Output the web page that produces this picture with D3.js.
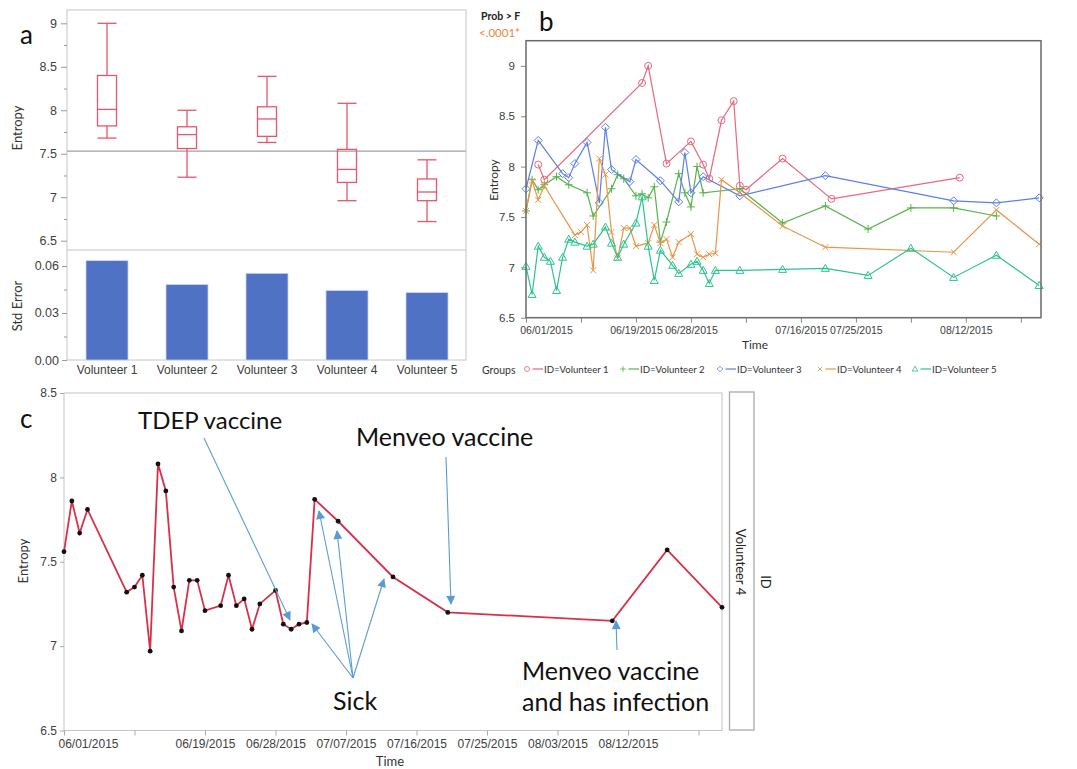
<!DOCTYPE html>
<html>
<head>
<meta charset="utf-8">
<script src="https://cdn.jsdelivr.net/npm/d3@7"></script>
<style>
  body { margin: 0; background: #fff; }
  svg { font-family: Lato, "Open Sans", sans-serif; }
  .tick text { fill: #404040; }
</style>
</head>
<body>
<svg id="fig" width="1077" height="769"></svg>
<script>
// ---- data ----
var volunteers = ['Volunteer 1', 'Volunteer 2', 'Volunteer 3', 'Volunteer 4', 'Volunteer 5'];

// panel a: box plot summaries and std errors
var boxMax = [9.00, 8.00, 8.39, 8.08, 7.43];
var boxQ3 = [8.40, 7.81, 8.04, 7.55, 7.21];
var boxMed = [8.01, 7.72, 7.90, 7.32, 7.06];
var boxQ1 = [7.82, 7.56, 7.70, 7.17, 6.96];
var boxMin = [7.68, 7.23, 7.63, 6.96, 6.72];
var grandMean = 7.53;
var stdErr = [0.0634, 0.0481, 0.0553, 0.0443, 0.0430];
var aTicks = [6.5, 7, 7.5, 8, 8.5, 9];
var seTicks = [0, 0.03, 0.06];

// panels b and c: day offsets from 06/01/2015 and entropy
var v1Days = [2, 3, 19, 20, 23, 27, 29, 30, 32, 34, 35, 36, 42, 50, 71];
var v1Vals = [8.02, 7.87, 8.83, 9.00, 8.03, 8.25, 8.02, 7.88, 8.46, 8.65, 7.81, 7.77, 8.08, 7.68, 7.89];
var v2Days = [0, 1, 2, 3, 5, 7, 10, 11, 14, 15, 16, 18, 19, 20, 21, 22, 23, 25, 26, 27, 28, 29, 35, 42, 49, 56, 63, 70, 77];
var v2Vals = [7.56, 7.87, 7.77, 7.82, 7.90, 7.82, 7.74, 7.51, 7.78, 7.92, 7.88, 7.71, 7.73, 7.69, 7.80, 7.25, 7.45, 7.93, 7.74, 7.60, 8.00, 7.74, 7.78, 7.44, 7.61, 7.38, 7.59, 7.59, 7.51];
var v3Days = [0, 2, 6, 7, 8, 10, 12, 13, 14, 17, 18, 22, 25, 26, 27, 29, 35, 49, 70, 77, 84];
var v3Vals = [7.78, 8.26, 7.93, 7.89, 8.03, 8.24, 7.64, 8.39, 7.97, 7.85, 8.07, 7.86, 7.65, 8.14, 7.74, 7.90, 7.71, 7.91, 7.66, 7.64, 7.69];
var v4Days = [0, 1, 2, 3, 8, 9, 10, 11, 12, 13, 14, 15, 16, 17, 18, 20, 21, 22, 23, 24, 25, 27, 28, 29, 30, 31, 32, 35, 42, 49, 70, 77, 84];
var v4Vals = [7.56, 7.86, 7.67, 7.81, 7.32, 7.35, 7.42, 6.97, 8.08, 7.92, 7.35, 7.09, 7.39, 7.39, 7.21, 7.24, 7.42, 7.24, 7.28, 7.10, 7.25, 7.33, 7.13, 7.10, 7.13, 7.14, 7.87, 7.74, 7.41, 7.20, 7.15, 7.57, 7.23];
var v5Days = [0, 1, 2, 3, 4, 5, 6, 7, 8, 10, 11, 13, 14, 15, 16, 18, 19, 20, 21, 22, 24, 25, 27, 28, 29, 30, 31, 35, 42, 49, 56, 63, 70, 77, 84];
var v5Vals = [7.01, 6.73, 7.21, 7.10, 7.06, 6.77, 7.10, 7.28, 7.25, 7.21, 7.23, 7.40, 7.24, 7.10, 7.23, 7.44, 7.70, 7.21, 6.87, 7.17, 7.02, 6.94, 7.03, 7.06, 6.97, 6.84, 6.97, 6.97, 6.98, 6.99, 6.92, 7.19, 6.90, 7.12, 6.82];

var dateTicks = ['06/01/2015', '06/10/2015', '06/19/2015', '06/28/2015', '07/07/2015', '07/16/2015', '07/25/2015', '08/03/2015', '08/12/2015', '08/21/2015'];
var bLabels = ['06/01/2015', '06/19/2015', '06/28/2015', '07/16/2015', '07/25/2015', '08/12/2015'];
var cLabels = ['06/01/2015', '06/19/2015', '06/28/2015', '07/07/2015', '07/16/2015', '07/25/2015', '08/03/2015', '08/12/2015'];
var bcTicks = [6.5, 7, 7.5, 8, 8.5, 9];
var cTicks = [6.5, 7, 7.5, 8, 8.5];

var seriesColors = ['#e8687c', '#55b54a', '#5c7fe6', '#e89548', '#2bc48f'];
var seriesShapes = ['circle', 'plus', 'diamond', 'cross', 'triangle'];

// ---- helpers ----
var svg = d3.select('#fig');
var parse = d3.timeParse('%m/%d/%Y');
var fmt = d3.timeFormat('%m/%d/%Y');
var start = parse('06/01/2015');
function toDate(d) { return new Date(+start + d * 864e5); }

function styleAxis(g, color) {
  g.select('.domain').remove();
  g.selectAll('.tick line').attr('stroke', color || '#999');
}

function shapePath(type) {
  switch (type) {
    case 'circle': return 'M3.5,0A3.5,3.5 0 1,1 -3.5,0A3.5,3.5 0 1,1 3.5,0Z';
    case 'plus': return 'M-4,0H4M0,-4V4';
    case 'diamond': return 'M0,-4L4,0L0,4L-4,0Z';
    case 'cross': return 'M-3,-3L3,3M-3,3L3,-3';
    default: return 'M0,-4L4,3L-4,3Z';
  }
}

// ================= panel a =================
var ax0 = 67, ax1 = 466;
var xa = d3.scaleBand().domain(volunteers).range([ax0, ax1 + 1]).paddingInner(0.475).paddingOuter(0.2375);
var ya = d3.scaleLinear().domain([6.393, 9.153]).range([250, 10]);
var yse = d3.scaleLinear().domain([0, 0.0702]).range([360, 250]);

var pa = svg.append('g');
pa.append('rect').attr('x', ax0).attr('y', 10).attr('width', ax1 - ax0).attr('height', 350)
  .attr('fill', 'none').attr('stroke', '#c4c4c4');
pa.append('line').attr('x1', ax0).attr('x2', ax1).attr('y1', 250).attr('y2', 250).attr('stroke', '#c4c4c4');

pa.append('g').attr('transform', 'translate(' + ax0 + ',0)')
  .call(d3.axisLeft(ya).tickValues(d3.range(6.75, 9.1, 0.5)).tickSize(3).tickFormat(''))
  .call(styleAxis);
pa.append('g').attr('transform', 'translate(' + ax0 + ',0)')
  .call(d3.axisLeft(ya).tickValues(aTicks).tickSize(6).tickPadding(4).tickFormat(d3.format('')))
  .call(styleAxis)
  .selectAll('text').style('font-size', '12.5px');

pa.append('line').attr('x1', ax0).attr('x2', ax1)
  .attr('y1', ya(grandMean)).attr('y2', ya(grandMean)).attr('stroke', '#a0a0a0').attr('stroke-width', 1.3);

var boxColor = '#e8566c';
var bw = 19;
volunteers.forEach(function(v, i) {
  var cx = xa(v) + xa.bandwidth() / 2;
  var g = pa.append('g').attr('stroke', boxColor).attr('fill', 'none').attr('stroke-width', 1.3);
  g.append('line').attr('x1', cx).attr('x2', cx).attr('y1', ya(boxMax[i])).attr('y2', ya(boxQ3[i]));
  g.append('line').attr('x1', cx).attr('x2', cx).attr('y1', ya(boxQ1[i])).attr('y2', ya(boxMin[i]));
  g.append('line').attr('x1', cx - bw / 2).attr('x2', cx + bw / 2).attr('y1', ya(boxMax[i])).attr('y2', ya(boxMax[i]));
  g.append('line').attr('x1', cx - bw / 2).attr('x2', cx + bw / 2).attr('y1', ya(boxMin[i])).attr('y2', ya(boxMin[i]));
  g.append('rect').attr('x', cx - bw / 2).attr('width', bw)
    .attr('y', ya(boxQ3[i])).attr('height', ya(boxQ1[i]) - ya(boxQ3[i]));
  g.append('line').attr('x1', cx - bw / 2).attr('x2', cx + bw / 2).attr('y1', ya(boxMed[i])).attr('y2', ya(boxMed[i]));
});

pa.append('g').attr('transform', 'translate(' + ax0 + ',0)')
  .call(d3.axisLeft(yse).tickValues([0.015, 0.045]).tickSize(3).tickFormat(''))
  .call(styleAxis);
pa.append('g').attr('transform', 'translate(' + ax0 + ',0)')
  .call(d3.axisLeft(yse).tickValues(seTicks).tickSize(5).tickPadding(3).tickFormat(d3.format('.2f')))
  .call(styleAxis)
  .selectAll('text').style('font-size', '12.5px');

pa.selectAll('.bar').data(stdErr).enter().append('rect')
  .attr('x', function(d, i) { return xa(volunteers[i]); })
  .attr('width', xa.bandwidth())
  .attr('y', function(d) { return yse(d); })
  .attr('height', function(d) { return yse(0) - yse(d); })
  .attr('fill', '#4f72c4').attr('stroke', '#c9d3ee').attr('stroke-width', 0.8);

pa.append('g').attr('transform', 'translate(0,360)')
  .call(d3.axisBottom(xa).tickSize(0).tickPadding(5))
  .call(styleAxis)
  .selectAll('text').style('font-size', '12px');

pa.append('text').attr('transform', 'translate(22,128) rotate(-90)').attr('text-anchor', 'middle')
  .style('font-size', '13px').attr('fill', '#333').text('Entropy');
pa.append('text').attr('transform', 'translate(22,306) rotate(-90)').attr('text-anchor', 'middle')
  .style('font-size', '13px').attr('fill', '#333').text('Std Error');
pa.append('text').attr('x', 20).attr('y', 44).style('font-size', '26px').attr('fill', '#111').text('a');

// ================= panel b =================
var bx0 = 526, bx1 = 1041, by0 = 40.7, by1 = 317.7;
var xb = d3.scaleTime().domain([start, toDate(84.3)]).range([bx0, bx1]);
var yb = d3.scaleLinear().domain([6.5, 9.25]).range([by1, by0]);
var pb = svg.append('g');

pb.append('g').attr('transform', 'translate(' + bx0 + ',0)')
  .call(d3.axisLeft(yb).tickValues(bcTicks).tickSize(5).tickPadding(6).tickFormat(d3.format('')))
  .call(styleAxis, '#888')
  .selectAll('text').style('font-size', '11.5px');

pb.append('g').attr('transform', 'translate(0,' + by1 + ')')
  .call(d3.axisBottom(xb).tickValues(dateTicks.map(parse)).tickSize(5).tickPadding(4)
    .tickFormat(function(d) { return bLabels.indexOf(fmt(d)) >= 0 ? fmt(d) : ''; }))
  .call(styleAxis, '#888')
  .selectAll('text').style('font-size', '10.5px')
  .attr('dx', function(d) { return +d === +start ? 20 : 0; });

var allDays = [v1Days, v2Days, v3Days, v4Days, v5Days];
var allVals = [v1Vals, v2Vals, v3Vals, v4Vals, v5Vals];
var lineB = d3.line().x(function(d) { return xb(toDate(d[0])); }).y(function(d) { return yb(d[1]); });

allDays.forEach(function(days, s) {
  var pts = days.map(function(d, i) { return [d, allVals[s][i]]; });
  var g = pb.append('g');
  g.append('path').datum(pts).attr('d', lineB).attr('fill', 'none')
    .attr('stroke', seriesColors[s]).attr('stroke-width', 1.2);
  g.selectAll('path.m').data(pts).enter().append('path').attr('class', 'm')
    .attr('transform', function(d) { return 'translate(' + xb(toDate(d[0])) + ',' + yb(d[1]) + ')'; })
    .attr('d', shapePath(seriesShapes[s]))
    .attr('fill', 'none').attr('stroke', seriesColors[s]).attr('stroke-width', 1);
});

pb.append('rect').attr('x', bx0).attr('y', by0).attr('width', bx1 - bx0).attr('height', by1 - by0)
  .attr('fill', 'none').attr('stroke', '#6a6a6a').attr('stroke-width', 1.5);

pb.append('text').attr('transform', 'translate(498,180) rotate(-90)').attr('text-anchor', 'middle')
  .style('font-size', '12px').attr('fill', '#333').text('Entropy');
pb.append('text').attr('x', 755).attr('y', 349).attr('text-anchor', 'middle')
  .style('font-size', '12px').attr('fill', '#333').text('Time');
pb.append('text').attr('x', 481).attr('y', 20).style('font-size', '10.5px').style('font-weight', 'bold')
  .attr('fill', '#222').text('Prob > F');
pb.append('text').attr('x', 479).attr('y', 37).style('font-size', '11.5px')
  .attr('fill', '#e8873a').text('<.0001*');
pb.append('text').attr('x', 539).attr('y', 31).style('font-size', '26px').attr('fill', '#111').text('b');

// legend
var legX = [527, 623, 720, 820, 915];
var leg = pb.append('g');
leg.append('text').attr('x', 482).attr('y', 374).style('font-size', '10.5px').attr('fill', '#333').text('Groups');
volunteers.forEach(function(v, i) {
  var x = legX[i];
  leg.append('path').attr('transform', 'translate(' + x + ',369) scale(0.7)').attr('d', shapePath(seriesShapes[i]))
    .attr('fill', 'none').attr('stroke', seriesColors[i]).attr('stroke-width', 1.2);
  leg.append('line').attr('x1', x + 5.5).attr('x2', x + 16).attr('y1', 369).attr('y2', 369)
    .attr('stroke', seriesColors[i]).attr('stroke-width', 1.2);
  leg.append('text').attr('x', x + 17).attr('y', 372.5).style('font-size', '9.6px').attr('fill', '#333')
    .text('ID=' + v);
});

// ================= panel c =================
var cx0 = 64, cx1 = 722, cy0 = 393, cy1 = 730.5;
var xc = d3.scaleTime().domain([start, toDate(84)]).range([cx0, cx1]);
var yc = d3.scaleLinear().domain([6.5, 8.5]).range([cy1, cy0]);
var pc = svg.append('g');

pc.append('rect').attr('x', cx0).attr('y', cy0).attr('width', cx1 - cx0).attr('height', cy1 - cy0)
  .attr('fill', 'none').attr('stroke', '#c4c4c4');

pc.append('g').attr('transform', 'translate(' + cx0 + ',0)')
  .call(d3.axisLeft(yc).tickValues(cTicks).tickSize(4).tickPadding(3).tickFormat(d3.format('')))
  .call(styleAxis, '#aaa')
  .selectAll('text').style('font-size', '12px');

pc.append('g').attr('transform', 'translate(0,' + cy1 + ')')
  .call(d3.axisBottom(xc).tickValues(dateTicks.map(parse)).tickSize(5).tickPadding(4)
    .tickFormat(function(d) { return cLabels.indexOf(fmt(d)) >= 0 ? fmt(d) : ''; }))
  .call(styleAxis, '#aaa')
  .selectAll('text').style('font-size', '12px')
  .attr('dx', function(d) { return +d === +start ? 24 : 0; });

var ptsC = v4Days.map(function(d, i) { return [d, v4Vals[i]]; });
var lineC = d3.line().x(function(d) { return xc(toDate(d[0])); }).y(function(d) { return yc(d[1]); });
pc.append('path').datum(ptsC).attr('d', lineC).attr('fill', 'none')
  .attr('stroke', '#d9304a').attr('stroke-width', 1.8);
pc.selectAll('circle.p').data(ptsC).enter().append('circle').attr('class', 'p')
  .attr('cx', function(d) { return xc(toDate(d[0])); })
  .attr('cy', function(d) { return yc(d[1]); })
  .attr('r', 2.4).attr('fill', '#111');

// annotation arrows
var arrowColor = '#5b9bd5';
svg.append('defs').append('marker').attr('id', 'ah')
  .attr('viewBox', '0 0 10 10').attr('refX', 9).attr('refY', 5)
  .attr('markerWidth', 11).attr('markerHeight', 9).attr('markerUnits', 'userSpaceOnUse')
  .attr('orient', 'auto')
  .append('path').attr('d', 'M0,0L10,5L0,10Z').attr('fill', arrowColor);

var arrows = [
  [204, 438, 290, 620],
  [353, 678, 312, 624],
  [353, 678, 319, 511],
  [353, 678, 337, 531],
  [353, 678, 384, 579],
  [446, 457, 451, 604],
  [617, 650, 616, 621]
];
pc.selectAll('line.arr').data(arrows).enter().append('line').attr('class', 'arr')
  .attr('x1', function(d) { return d[0]; }).attr('y1', function(d) { return d[1]; })
  .attr('x2', function(d) { return d[2]; }).attr('y2', function(d) { return d[3]; })
  .attr('stroke', arrowColor).attr('stroke-width', 1.1).attr('marker-end', 'url(#ah)');

pc.append('text').attr('x', 138).attr('y', 429).style('font-size', '24px').attr('fill', '#111').text('TDEP vaccine');
pc.append('text').attr('x', 356).attr('y', 446).style('font-size', '25px').attr('fill', '#111').text('Menveo vaccine');
pc.append('text').attr('x', 333).attr('y', 710).style('font-size', '25px').attr('fill', '#111').text('Sick');
pc.append('text').attr('x', 522).attr('y', 680).style('font-size', '25px').attr('fill', '#111').text('Menveo vaccine');
pc.append('text').attr('x', 522).attr('y', 711).style('font-size', '25px').attr('fill', '#111').text('and has infection');

pc.append('text').attr('transform', 'translate(28,561) rotate(-90)').attr('text-anchor', 'middle')
  .style('font-size', '13px').attr('fill', '#333').text('Entropy');
pc.append('text').attr('x', 390).attr('y', 766).attr('text-anchor', 'middle')
  .style('font-size', '13px').attr('fill', '#333').text('Time');
pc.append('text').attr('x', 20).attr('y', 428).style('font-size', '26px').attr('fill', '#111').text('c');

// strip label on the right
pc.append('rect').attr('x', 729.5).attr('y', 392).attr('width', 24.5).attr('height', 338)
  .attr('fill', '#fff').attr('stroke', '#aaa').attr('stroke-width', 1.3);
pc.append('text').attr('transform', 'translate(736,562) rotate(90)').attr('text-anchor', 'middle')
  .style('font-size', '13px').attr('fill', '#222').text('Volunteer 4');
pc.append('text').attr('transform', 'translate(761,582) rotate(90)').attr('text-anchor', 'middle')
  .style('font-size', '13px').attr('fill', '#222').text('ID');
</script>
</body>
</html>
